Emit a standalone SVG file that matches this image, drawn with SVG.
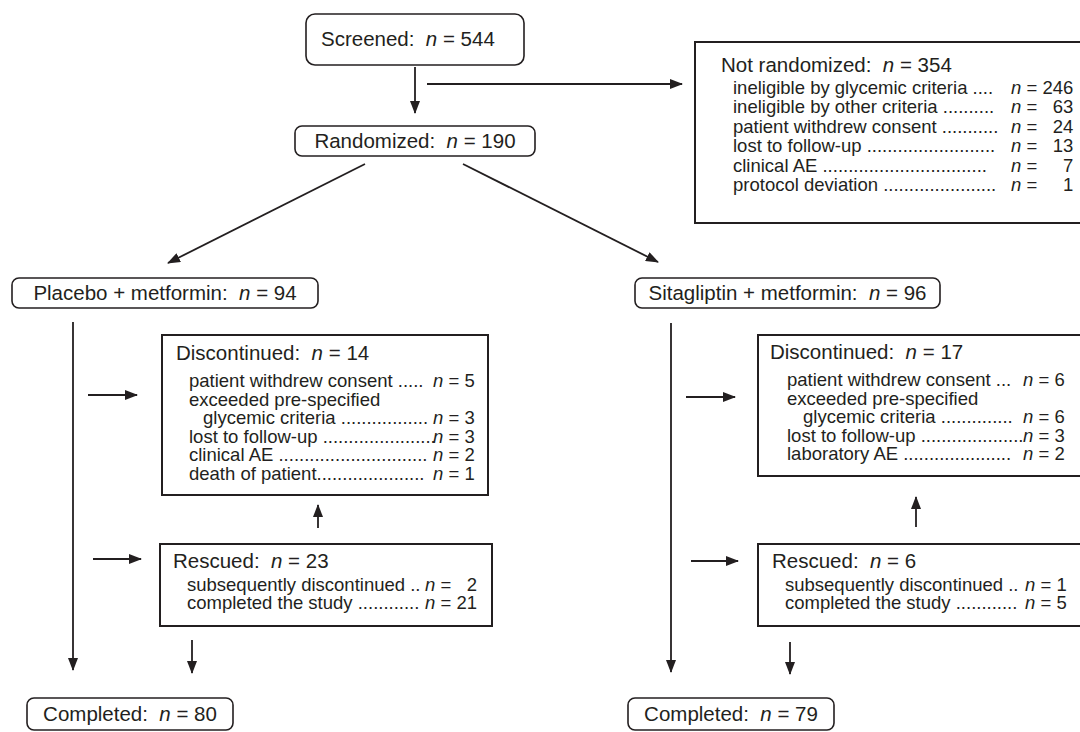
<svg xmlns="http://www.w3.org/2000/svg" width="1080" height="732" viewBox="0 0 1080 732">
<style>
text { font-family: "Liberation Sans", Arial, Helvetica, sans-serif; fill: #231f20; white-space: pre; }
.h { font-size: 20.5px; }
.i { font-size: 18.5px; }
.it { font-style: italic; }
.rb { fill: #fff; stroke: #231f20; stroke-width: 1.6; }
.sb { fill: #fff; stroke: #231f20; stroke-width: 2; }
.c { stroke: #231f20; stroke-width: 1.8; fill: none; marker-end: url(#ah); }
</style>
<defs>
<marker id="ah" viewBox="0 0 13 10" refX="12" refY="5" markerWidth="13" markerHeight="10" markerUnits="userSpaceOnUse" orient="auto">
<path d="M0,0 L13,5 L0,10 Z" fill="#231f20"/>
</marker>
</defs>
<rect width="1080" height="732" fill="#fff"/>

<g id="connectors">
<line class="c" x1="415" y1="67" x2="415" y2="113"/>
<line class="c" x1="427" y1="84" x2="682" y2="84"/>
<line class="c" x1="365" y1="164" x2="168" y2="263"/>
<line class="c" x1="463" y1="164" x2="658" y2="262"/>
<line class="c" x1="73" y1="322" x2="73" y2="670"/>
<line class="c" x1="88" y1="395" x2="137" y2="395"/>
<line class="c" x1="318" y1="528" x2="318" y2="505"/>
<line class="c" x1="93" y1="559" x2="141" y2="559"/>
<line class="c" x1="192" y1="640" x2="192" y2="673"/>
<line class="c" x1="671" y1="323" x2="671" y2="672"/>
<line class="c" x1="686" y1="397" x2="735" y2="397"/>
<line class="c" x1="916" y1="527" x2="916" y2="497"/>
<line class="c" x1="691" y1="561" x2="738" y2="561"/>
<line class="c" x1="790" y1="642" x2="790" y2="674"/>
</g>

<g id="screened">
<rect class="rb" x="306" y="14" width="218" height="51" rx="9"/>
<text class="h" x="321" y="46">Screened:  <tspan class="it">n</tspan> = 544</text>
</g>

<g id="randomized">
<rect class="rb" x="295" y="126" width="240" height="30" rx="7"/>
<text class="h" x="415" y="148" text-anchor="middle">Randomized:  <tspan class="it">n</tspan> = 190</text>
</g>

<g id="not-randomized">
<rect class="sb" x="695" y="42" width="395" height="181"/>
<text class="h" x="721" y="72">Not randomized:  <tspan class="it">n</tspan> = 354</text>
<text class="i" y="94"><tspan x="733">ineligible by glycemic criteria ....</tspan><tspan x="1011" class="it">n</tspan> = 246</text>
<text class="i" y="113.4"><tspan x="733">ineligible by other criteria ..........</tspan><tspan x="1011" class="it">n</tspan> =   63</text>
<text class="i" y="132.8"><tspan x="733">patient withdrew consent ...........</tspan><tspan x="1011" class="it">n</tspan> =   24</text>
<text class="i" y="152.2"><tspan x="733">lost to follow-up .........................</tspan><tspan x="1011" class="it">n</tspan> =   13</text>
<text class="i" y="171.6"><tspan x="733">clinical AE ................................</tspan><tspan x="1011" class="it">n</tspan> =     7</text>
<text class="i" y="191"><tspan x="733">protocol deviation ......................</tspan><tspan x="1011" class="it">n</tspan> =     1</text>
</g>

<g id="placebo">
<rect class="rb" x="12" y="278" width="306" height="30" rx="7"/>
<text class="h" x="165" y="300" text-anchor="middle">Placebo + metformin:  <tspan class="it">n</tspan> = 94</text>
</g>

<g id="sitagliptin">
<rect class="rb" x="635" y="278" width="305" height="30" rx="7"/>
<text class="h" x="787.5" y="300" text-anchor="middle">Sitagliptin + metformin:  <tspan class="it">n</tspan> = 96</text>
</g>

<g id="discontinued-placebo">
<rect class="sb" x="162" y="335" width="326" height="160"/>
<text class="h" x="176" y="360">Discontinued:  <tspan class="it">n</tspan> = 14</text>
<text class="i" y="387"><tspan x="189">patient withdrew consent .....</tspan><tspan x="433" class="it">n</tspan> = 5</text>
<text class="i" x="189" y="405.5">exceeded pre-specified</text>
<text class="i" y="424"><tspan x="203">glycemic criteria .................</tspan><tspan x="433" class="it">n</tspan> = 3</text>
<text class="i" y="442.5"><tspan x="189">lost to follow-up ......................</tspan><tspan x="433" class="it">n</tspan> = 3</text>
<text class="i" y="461"><tspan x="189">clinical AE .............................</tspan><tspan x="433" class="it">n</tspan> = 2</text>
<text class="i" y="479.5"><tspan x="189">death of patient.....................</tspan><tspan x="433" class="it">n</tspan> = 1</text>
</g>

<g id="rescued-placebo">
<rect class="sb" x="160" y="544" width="332" height="82"/>
<text class="h" x="173" y="568">Rescued:  <tspan class="it">n</tspan> = 23</text>
<text class="i" y="591"><tspan x="187">subsequently discontinued ..</tspan><tspan x="425" class="it">n</tspan> =   2</text>
<text class="i" y="609"><tspan x="187">completed the study ............</tspan><tspan x="425" class="it">n</tspan> = 21</text>
</g>

<g id="completed-placebo">
<rect class="rb" x="27" y="698" width="206" height="32" rx="7"/>
<text class="h" x="130" y="721" text-anchor="middle">Completed:  <tspan class="it">n</tspan> = 80</text>
</g>

<g id="discontinued-sitagliptin">
<rect class="sb" x="758" y="335" width="330" height="141"/>
<text class="h" x="770" y="359">Discontinued:  <tspan class="it">n</tspan> = 17</text>
<text class="i" y="386"><tspan x="787">patient withdrew consent ...</tspan><tspan x="1023" class="it">n</tspan> = 6</text>
<text class="i" x="787" y="404.5">exceeded pre-specified</text>
<text class="i" y="423"><tspan x="803">glycemic criteria ..............</tspan><tspan x="1023" class="it">n</tspan> = 6</text>
<text class="i" y="441.5"><tspan x="787">lost to follow-up ....................</tspan><tspan x="1023" class="it">n</tspan> = 3</text>
<text class="i" y="460"><tspan x="787">laboratory AE .....................</tspan><tspan x="1023" class="it">n</tspan> = 2</text>
</g>

<g id="rescued-sitagliptin">
<rect class="sb" x="758" y="544" width="330" height="82"/>
<text class="h" x="772" y="568">Rescued:  <tspan class="it">n</tspan> = 6</text>
<text class="i" y="591"><tspan x="785">subsequently discontinued ..</tspan><tspan x="1025" class="it">n</tspan> = 1</text>
<text class="i" y="609"><tspan x="785">completed the study ............</tspan><tspan x="1025" class="it">n</tspan> = 5</text>
</g>

<g id="completed-sitagliptin">
<rect class="rb" x="628" y="698" width="206" height="32" rx="7"/>
<text class="h" x="731" y="721" text-anchor="middle">Completed:  <tspan class="it">n</tspan> = 79</text>
</g>
</svg>
